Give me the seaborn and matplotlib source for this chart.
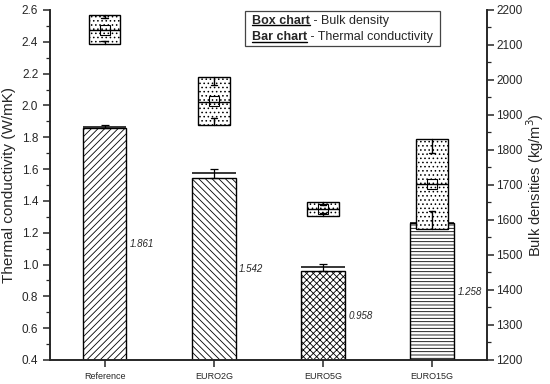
import matplotlib
matplotlib.use("Agg")
import matplotlib.pyplot as plt
import seaborn as sns
from matplotlib.lines import Line2D
from matplotlib.patches import Rectangle
from matplotlib.ticker import MultipleLocator

# data
samples = ["Reference", "EURO2G", "EURO5G", "EURO15G"]
conductivity = [1.861, 1.542, 0.958, 1.258]
conductivity_err = [0.014, 0.058, 0.046, 0.040]
top_line = [1.863, 1.575, 0.985, 1.262]
bar_hatches = ["/////", "\\\\\\\\\\", "xxxxx", "-----"]

# bulk density box stats (kg/m3)
dens_q1 = [2103, 1871, 1611, 1574]
dens_q3 = [2186, 2009, 1651, 1831]
dens_med = [2143, 1937, 1631, 1703]
dens_mean = [2143, 1940, 1632, 1703]
dens_lo = [2111, 1891, 1620, 1626]
dens_hi = [2177, 1986, 1643, 1791]

sns.set_style("ticks")
plt.rcParams["font.family"] = ["Liberation Sans", "DejaVu Sans"]
plt.rcParams["hatch.linewidth"] = 0.6

fig, ax = plt.subplots(figsize=(5.5, 3.84), dpi=100)
fig.subplots_adjust(left=0.091, right=0.885, top=0.974, bottom=0.0625)

# Bar chart - thermal conductivity
sns.barplot(x=samples, y=conductivity, ax=ax, color="white", edgecolor="black",
            linewidth=1, width=0.4, errorbar=None, saturation=1)
for patch, h in zip(ax.patches, bar_hatches):
    patch.set_hatch(h)
    patch.set_facecolor("white")

xpos = list(range(len(samples)))
# only the upper half of the error bar shows above the bar
ax.errorbar(xpos, conductivity, yerr=[[0] * len(xpos), conductivity_err], fmt="none",
            ecolor="black", elinewidth=0.9, capsize=3, capthick=0.9, zorder=5)
ax.hlines(top_line, [x - 0.2 for x in xpos], [x + 0.2 for x in xpos],
          colors="black", lw=1.1, zorder=5)

for x, v in zip(xpos, conductivity):
    ax.text(x + 0.23, (0.4 + v) / 2, f"{v:.3f}", fontsize=7, style="italic",
            ha="left", va="center")

ax.set_xlim(-0.5, 3.5)
ax.set_ylim(0.4, 2.6)
ax.yaxis.set_major_locator(MultipleLocator(0.2))
ax.yaxis.set_minor_locator(MultipleLocator(0.1))
ax.yaxis.set_major_formatter(matplotlib.ticker.FormatStrFormatter("%.1f"))
ax.set_ylabel("Thermal conductivity (W/mK)", fontsize=11)
ax.set_xlabel("")
ax.tick_params(axis="x", labelsize=6.5, length=5, width=1.1, direction="out")
ax.tick_params(axis="y", which="major", labelsize=8.5, length=5, width=1.1)
ax.tick_params(axis="y", which="minor", length=3, width=0.9, left=True)

# Box chart - bulk density
ax2 = ax.twinx()
stats = []
for i in range(len(samples)):
    stats.append(dict(q1=dens_q1[i], q3=dens_q3[i], med=dens_med[i],
                      mean=dens_mean[i], whislo=dens_lo[i], whishi=dens_hi[i],
                      fliers=[]))
ax2.bxp(stats, positions=xpos, widths=0.29, showmeans=True, patch_artist=True,
        capwidths=0.06,
        boxprops=dict(facecolor="white", edgecolor="black", hatch="....", linewidth=1),
        medianprops=dict(color="black", linewidth=1),
        meanprops=dict(marker="s", markerfacecolor="none", markeredgecolor="black",
                       markersize=7, markeredgewidth=0.8),
        whiskerprops=dict(color="black", linewidth=1),
        capprops=dict(color="black", linewidth=1))
ax2.set_xlim(-0.5, 3.5)
ax2.set_ylim(1200, 2200)
ax2.yaxis.set_major_locator(MultipleLocator(100))
ax2.yaxis.set_minor_locator(MultipleLocator(50))
ax2.set_ylabel("Bulk densities (kg/m$^3$)", fontsize=10.5, labelpad=1)
ax2.tick_params(axis="y", which="major", labelsize=8.5, length=5, width=1.1, right=True,
                pad=2)
ax2.tick_params(axis="y", which="minor", length=3, width=0.9, right=True)
ax2.set_xticks(xpos)
ax2.set_xticklabels(samples)

for a in (ax, ax2):
    a.spines["top"].set_visible(False)
    for s in ("left", "right", "bottom"):
        a.spines[s].set_linewidth(1.2)
        a.spines[s].set_visible(True)

# legend box
ax2.add_patch(Rectangle((0.446, 0.897), 0.446, 0.1, transform=ax2.transAxes,
                        facecolor="white", edgecolor="#444444", lw=0.9, zorder=6))
fig.canvas.draw()
renderer = fig.canvas.get_renderer()
legend_rows = [("Box chart", " - Bulk density", 0.952),
               ("Bar chart", " - Thermal conductivity", 0.905)]
for bold, rest, y in legend_rows:
    t1 = ax2.text(0.462, y, bold, transform=ax2.transAxes, fontsize=9,
                  fontweight="bold", ha="left", va="bottom", zorder=7)
    ax2.annotate(rest, xy=(1, 0), xycoords=t1, fontsize=9, ha="left",
                 va="bottom", zorder=7)
    bb = t1.get_window_extent(renderer)
    yline = bb.y0 + 1.5
    p0 = fig.transFigure.inverted().transform((bb.x0, yline))
    p1 = fig.transFigure.inverted().transform((bb.x1, yline))
    fig.add_artist(Line2D([p0[0], p1[0]], [p0[1], p1[1]], color="black",
                          lw=1, transform=fig.transFigure, zorder=8))

fig.savefig("out.png", dpi=100)
